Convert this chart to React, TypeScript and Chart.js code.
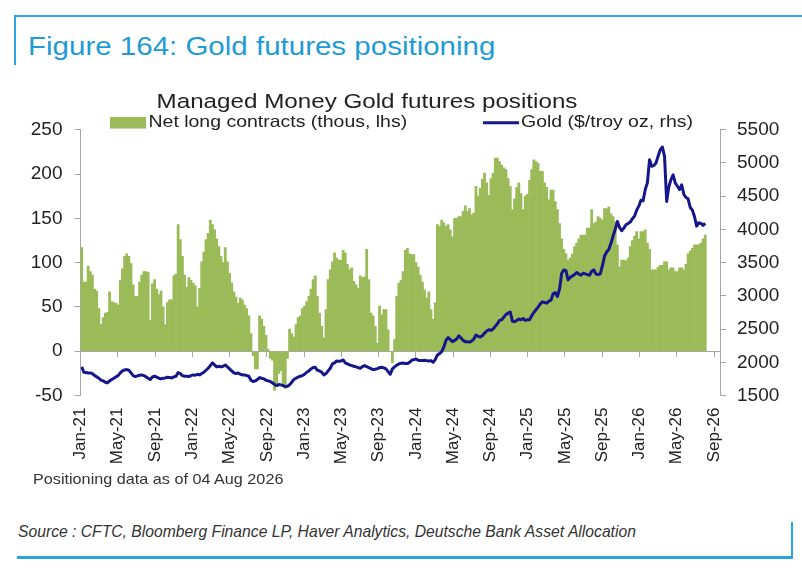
import React, { useEffect, useRef } from "react";
import { Chart, registerables } from "chart.js";

Chart.register(...registerables);

// ---------------- data ----------------
const chartTitle = "Managed Money Gold futures positions";
const barLabel = "Net long contracts (thous, lhs)";
const lineLabel = "Gold ($/troy oz, rhs)";

// weekly CFTC dates, first week = Tue 05 Jan 2021, last = Tue 04 Aug 2026
const firstWeekDayOffset = 4; // days after 1 Jan 2021
const daysPerMonth = 30.4375;

const xTickLabels = [
  "Jan-21", "May-21", "Sep-21", "Jan-22", "May-22", "Sep-22",
  "Jan-23", "May-23", "Sep-23", "Jan-24", "May-24", "Sep-24",
  "Jan-25", "May-25", "Sep-25", "Jan-26", "May-26", "Sep-26",
];
const leftTicks = { min: -50, max: 250, step: 50 };
const rightTicks = { min: 1500, max: 5500, step: 500 };

// Net long contracts (thousands), weekly
const netLong2021 = [117,78,78,96,90,86,70,68,48,30,38,43,44,67,56,55,54,52,80,93,107,110,107,99,75,62,62,78,86,90,90,89,35,76,81,70,64,68,50,30,55,58,58,85,87,143,126,107,86,72,83,80];
const netLong2022 = [77,74,50,71,101,112,126,133,148,143,137,127,118,107,100,117,101,88,77,67,61,54,60,58,52,48,40,20,-5,-20,-20,40,36,28,18,2,-8,-10,-44,-38,-25,-22,-40,-42,-8,25,20,16,30,38,40,48];
const netLong2023 = [51,56,62,70,81,85,62,43,28,15,47,81,92,101,111,105,103,103,114,111,98,92,94,79,75,71,85,83,84,115,81,43,40,28,9,51,41,47,47,24,0,-13,13,62,77,80,90,114,116,110,109,109];
const netLong2024 = [100,95,86,78,69,60,67,47,36,55,143,141,148,145,141,143,137,129,150,150,152,152,158,164,158,161,154,156,186,175,184,194,201,190,176,195,201,218,218,214,210,207,205,195,186,160,172,185,190,178,160,175];
const netLong2025 = [177,193,205,216,214,212,203,203,190,185,171,182,182,169,160,144,127,115,110,103,105,110,118,122,127,131,131,131,139,139,160,144,146,152,150,148,161,161,163,155,152,146,120,95,103,103,102,105,118,125,130,135];
const netLong2026 = [127,135,135,137,122,115,92,92,92,95,97,97,101,101,92,94,94,90,90,94,94,92,98,110,113,116,120,120,120,122,127,131];

// Gold price ($/troy oz), weekly
const gold2021 = [1930,1850,1845,1840,1840,1830,1800,1780,1760,1730,1720,1700,1690,1720,1740,1760,1780,1800,1840,1870,1885,1890,1880,1840,1800,1785,1795,1805,1810,1800,1780,1760,1740,1780,1790,1775,1760,1750,1760,1765,1775,1770,1765,1780,1790,1845,1830,1800,1790,1790,1785,1800];
const gold2022 = [1810,1805,1820,1810,1830,1850,1880,1910,1950,1990,1960,1930,1940,1930,1940,1960,1930,1900,1870,1840,1830,1840,1820,1810,1810,1800,1790,1730,1710,1720,1740,1770,1760,1750,1730,1720,1710,1690,1665,1650,1665,1660,1650,1635,1640,1660,1700,1740,1760,1775,1790,1800];
const gold2023 = [1820,1850,1870,1900,1920,1925,1880,1870,1850,1810,1830,1870,1910,1975,1990,2020,2015,2020,2035,1990,1975,1960,1950,1940,1930,1920,1910,1935,1950,1935,1920,1905,1890,1895,1905,1920,1925,1915,1900,1860,1820,1900,1930,1955,1975,1985,1990,1980,1980,2000,2030,2040];
const gold2024 = [2050,2030,2025,2025,2030,2025,2020,2025,2000,2040,2110,2130,2160,2230,2330,2370,2340,2310,2330,2350,2400,2365,2330,2310,2310,2305,2320,2350,2410,2390,2380,2400,2440,2470,2490,2480,2500,2540,2580,2630,2640,2680,2720,2740,2757,2620,2610,2630,2650,2640,2660,2630];
const gold2025 = [2640,2640,2700,2750,2790,2830,2880,2910,2900,2890,2920,2935,3030,3050,2990,3100,3340,3390,3380,3240,3280,3300,3320,3350,3330,3310,3340,3330,3320,3310,3370,3390,3330,3320,3330,3450,3600,3660,3700,3790,3900,4000,4120,4030,3980,4020,4070,4090,4110,4160,4200,4290];
const gold2026 = [4350,4440,4430,4600,4700,5050,4950,4960,5000,5100,5200,5240,5100,4420,4640,4750,4820,4700,4650,4600,4670,4530,4480,4460,4330,4290,4190,4050,4100,4090,4060,4090];

const netLong = [...netLong2021, ...netLong2022, ...netLong2023, ...netLong2024, ...netLong2025, ...netLong2026];
const gold = [...gold2021, ...gold2022, ...gold2023, ...gold2024, ...gold2025, ...gold2026];

// ---------------- styles ----------------
const FONT = '"Liberation Sans", Arial, Helvetica, sans-serif';
const STRETCH = 1.18;
const barColor = "#9bbb59";
const lineColor = "#16168c";
const axisColor = "#a6a6a6";
const textColor = "#222";
const frameBlue = "#2aa5e3";

const CANVAS_TOP = 60;
const CANVAS_W = 802;
const CANVAS_H = 420;

const weekToMonths = (i: number) => (firstWeekDayOffset + 7 * i) / daysPerMonth;
const xMin = 0;
const xMax = 68.64;

function drawStretched(ctx: CanvasRenderingContext2D, text: string, x: number, y: number, align: CanvasTextAlign) {
  ctx.save();
  ctx.translate(x, y);
  ctx.scale(STRETCH, 1);
  ctx.textAlign = align;
  ctx.fillText(text, 0, 0);
  ctx.restore();
}

const titleLegendPlugin = {
  id: "titleLegend",
  afterDraw(chart: any) {
    const { ctx, chartArea } = chart;
    const top = chartArea.top;
    ctx.save();
    ctx.textBaseline = "alphabetic";
    ctx.fillStyle = textColor;
    ctx.font = `20.5px ${FONT}`;
    drawStretched(ctx, chartTitle, 367, top - 21.4, "center");

    const ly = top - 7;
    ctx.fillStyle = barColor;
    ctx.fillRect(110, ly - 5.8, 36, 11.6);
    ctx.font = `16.5px ${FONT}`;
    ctx.fillStyle = textColor;
    drawStretched(ctx, barLabel, 148.5, top - 3, "left");

    ctx.strokeStyle = lineColor;
    ctx.lineWidth = 2.8;
    ctx.beginPath();
    ctx.moveTo(483, ly);
    ctx.lineTo(519, ly);
    ctx.stroke();
    ctx.fillStyle = textColor;
    drawStretched(ctx, lineLabel, 521, top - 3, "left");
    ctx.restore();
  },
};

function ChartView() {
  const ref = useRef<HTMLCanvasElement | null>(null);

  useEffect(() => {
    if (!ref.current) return;
    const tickValues = xTickLabels.map((_, k) => ({ value: k * 4 }));
    const chart = new Chart(ref.current, {
      type: "bar",
      data: {
        datasets: [
          {
            type: "line",
            label: lineLabel,
            data: gold.map((v, i) => ({ x: weekToMonths(i), y: v })),
            xAxisID: "x",
            yAxisID: "y1",
            borderColor: lineColor,
            borderWidth: 3,
            pointRadius: 0,
            tension: 0,
            borderJoinStyle: "round",
            order: 0,
          } as any,
          {
            type: "bar",
            label: barLabel,
            data: netLong.map((v, i) => ({ x: weekToMonths(i), y: v })),
            xAxisID: "x",
            yAxisID: "y",
            backgroundColor: barColor,
            borderWidth: 0,
            barPercentage: 1,
            categoryPercentage: 1,
            order: 1,
          } as any,
        ],
      },
      options: {
        animation: false,
        responsive: false,
        maintainAspectRatio: false,
        layout: { padding: { top: 69.75, left: 0, right: 0, bottom: 0 } },
        plugins: {
          legend: { display: false },
          title: { display: false },
          tooltip: { enabled: false },
        },
        scales: {
          x: {
            type: "linear",
            position: "bottom",
            min: xMin,
            max: xMax,
            offset: false,
            grid: { display: false, offset: false },
            border: { display: false },
            afterBuildTicks: (scale: any) => {
              scale.ticks = tickValues.map((t) => ({ ...t }));
            },
            afterFit: (scale: any) => {
              scale.height = 84.5;
            },
            ticks: {
              autoSkip: false,
              minRotation: 90,
              maxRotation: 90,
              padding: 4,
              color: textColor,
              font: { family: FONT, size: 17 },
              callback: (value: any) => xTickLabels[Math.round(Number(value) / 4)] ?? "",
            },
          },
          x2: {
            type: "linear",
            position: { y: 0 } as any,
            min: xMin,
            max: xMax,
            offset: false,
            afterBuildTicks: (scale: any) => {
              scale.ticks = tickValues.map((t) => ({ ...t }));
            },
            grid: {
              display: true,
              drawOnChartArea: false,
              drawTicks: true,
              tickLength: 5,
              color: axisColor,
              offset: false,
            },
            border: { display: true, color: axisColor, width: 1 },
            ticks: { display: false },
          },
          y: {
            type: "linear",
            position: "left",
            min: leftTicks.min,
            max: leftTicks.max,
            afterFit: (scale: any) => {
              scale.width = 80.5;
            },
            ticks: {
              stepSize: leftTicks.step,
              padding: 12,
              color: textColor,
              font: { family: FONT, size: 19 },
              callback: (value: any) => String(value),
            },
            grid: {
              drawOnChartArea: false,
              drawTicks: true,
              tickLength: 6,
              color: axisColor,
            },
            border: { display: true, color: axisColor, width: 1 },
          },
          y1: {
            type: "linear",
            position: "right",
            min: rightTicks.min,
            max: rightTicks.max,
            afterFit: (scale: any) => {
              scale.width = 82;
            },
            ticks: {
              stepSize: rightTicks.step,
              padding: 11,
              color: textColor,
              font: { family: FONT, size: 19 },
              callback: (value: any) => String(value),
            },
            grid: {
              drawOnChartArea: false,
              drawTicks: true,
              tickLength: 6,
              color: axisColor,
            },
            border: { display: true, color: axisColor, width: 1 },
          },
        },
      } as any,
      plugins: [titleLegendPlugin],
    });
    return () => chart.destroy();
  }, []);

  return (
    <canvas
      ref={ref}
      width={CANVAS_W}
      height={CANVAS_H}
      style={{ position: "absolute", left: 0, top: CANVAS_TOP, width: CANVAS_W, height: CANVAS_H }}
    />
  );
}

const stretchStyle: React.CSSProperties = {
  position: "absolute",
  whiteSpace: "nowrap",
  transformOrigin: "left top",
  margin: 0,
};

export default function App() {
  return (
    <div
      style={{
        position: "fixed",
        left: 0,
        top: 0,
        width: 802,
        height: 570,
        background: "#fff",
        overflow: "hidden",
        fontFamily: FONT,
      }}
    >
      {/* frame lines */}
      <div style={{ position: "absolute", left: 15, top: 15, width: 787, height: 2, background: frameBlue }} />
      <div style={{ position: "absolute", left: 14, top: 15, width: 2, height: 50, background: frameBlue }} />
      <div style={{ position: "absolute", left: 17, top: 556, width: 776, height: 2.5, background: frameBlue }} />
      <div style={{ position: "absolute", left: 790.5, top: 522, width: 2, height: 36, background: frameBlue }} />

      <div
        style={{
          ...stretchStyle,
          left: 28,
          top: 33.8,
          fontSize: 25,
          lineHeight: "25px",
          color: "#1e9bd7",
          transform: `scaleX(${STRETCH})`,
        }}
      >
        Figure 164: Gold futures positioning
      </div>

      <ChartView />

      <div
        style={{
          ...stretchStyle,
          left: 33,
          top: 471.3,
          fontSize: 15,
          lineHeight: "15px",
          color: "#333",
          transform: "scaleX(1.08)",
        }}
      >
        Positioning data as of 04 Aug 2026
      </div>

      <div
        style={{
          ...stretchStyle,
          left: 18,
          top: 523.7,
          fontSize: 15.7,
          lineHeight: "15.7px",
          fontStyle: "italic",
          color: "#333",
        }}
      >
        Source : CFTC, Bloomberg Finance LP, Haver Analytics, Deutsche Bank Asset Allocation
      </div>
    </div>
  );
}
